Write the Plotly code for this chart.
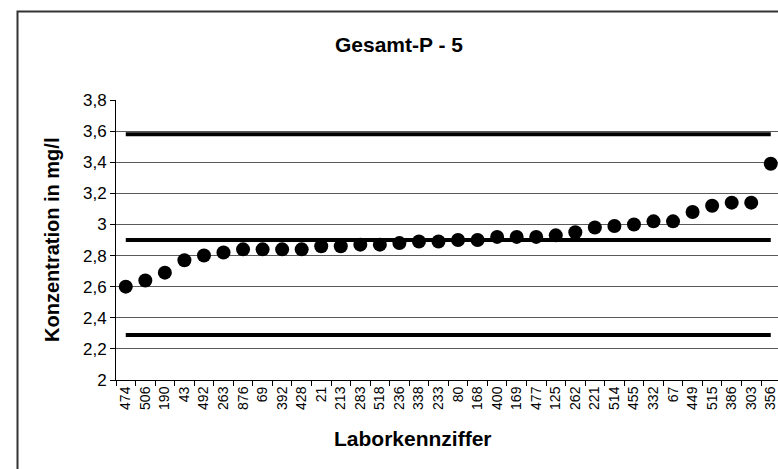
import plotly.graph_objects as go

# Laboratory codes (x categories) and measured total phosphorus, mg/l
lab_codes = ["474", "506", "190", "43", "492", "263", "876", "69", "392", "428",
             "21", "213", "283", "518", "236", "338", "233", "80", "168", "400",
             "169", "477", "125", "262", "221", "514", "455", "332", "67", "449",
             "515", "386", "303", "356"]
concentration = [2.60, 2.64, 2.69, 2.77, 2.80, 2.82, 2.84, 2.84, 2.84, 2.84,
                 2.86, 2.86, 2.87, 2.87, 2.88, 2.89, 2.89, 2.90, 2.90, 2.92,
                 2.92, 2.92, 2.93, 2.95, 2.98, 2.99, 3.00, 3.02, 3.02, 3.08,
                 3.12, 3.14, 3.14, 3.39]

# Reference levels: upper tolerance, assigned value, lower tolerance
upper_limit = 3.58
assigned_value = 2.90
lower_limit = 2.29

y_tick_vals = [2.0, 2.2, 2.4, 2.6, 2.8, 3.0, 3.2, 3.4, 3.6, 3.8]
y_tick_text = ["2", "2,2", "2,4", "2,6", "2,8", "3", "3,2", "3,4", "3,6", "3,8"]

FONT = "Liberation Sans, Arial, sans-serif"

fig = go.Figure()

for level in (upper_limit, assigned_value, lower_limit):
    fig.add_trace(go.Scatter(
        x=lab_codes, y=[level] * len(lab_codes), mode="lines",
        line=dict(color="black", width=4), hoverinfo="skip", showlegend=False,
    ))

fig.add_trace(go.Scatter(
    x=lab_codes, y=concentration, mode="markers",
    marker=dict(color="black", size=14), showlegend=False,
))

W, H = 778, 469
L, R, T, B = 116, 0, 100, 89
pw, ph = W - L - R, H - T - B

def px_x(x):
    return (x - L) / pw

def px_y(y):
    return (H - B - y) / ph

# Chart frame drawn as a closed path; its right edge sits past the canvas
frame_path = (f"M {px_x(17.5)},{px_y(500)} L {px_x(17.5)},{px_y(11.5)} "
              f"L {px_x(820)},{px_y(11.5)}")
frame = [
    dict(type="path", xref="paper", yref="paper", path=frame_path,
         line=dict(color="#333333", width=2)),
]

fig.update_layout(
    width=W, height=H,
    margin=dict(l=L, r=R, t=T, b=B, pad=0),
    paper_bgcolor="white", plot_bgcolor="white",
    font=dict(family=FONT, color="black"),
    xaxis=dict(
        type="category", range=[-0.5, 33.37],
        tickangle=-90, tickfont=dict(size=14, family=FONT),
        ticks="outside", ticklen=5, tickcolor="black", tickson="boundaries",
        showline=True, linecolor="black", linewidth=1,
        showgrid=False, zeroline=False,
    ),
    yaxis=dict(
        range=[2.0, 3.8], tickvals=y_tick_vals, ticktext=y_tick_text,
        tickfont=dict(size=17, family=FONT),
        ticks="outside", ticklen=5, tickcolor="black",
        showline=True, linecolor="black", linewidth=1,
        showgrid=True, gridcolor="#5a5a5a", gridwidth=1, zeroline=False,
    ),
    annotations=[
        dict(text="<b>Gesamt-P - 5</b>", xref="paper", yref="paper",
             x=px_x(398.5), y=px_y(44), xanchor="center", yanchor="middle",
             showarrow=False, font=dict(size=21, family=FONT)),
        dict(text="<b>Konzentration in mg/l</b>", xref="paper", yref="paper",
             x=px_x(52), y=px_y(240), xanchor="center", yanchor="middle",
             textangle=-90, showarrow=False, font=dict(size=20, family=FONT)),
        dict(text="<b>Laborkennziffer</b>", xref="paper", yref="paper",
             x=px_x(413), y=px_y(438), xanchor="center", yanchor="middle",
             showarrow=False, font=dict(size=21, family=FONT)),
    ],
    shapes=frame,
)

fig.write_html("out.html", config={"displayModeBar": False})
